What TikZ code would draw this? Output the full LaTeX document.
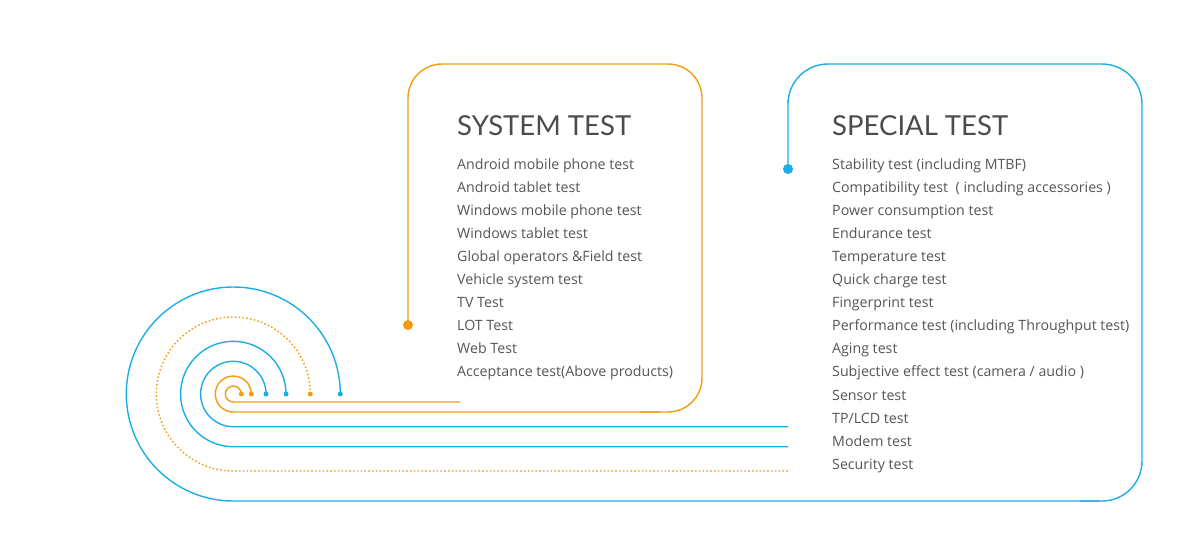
\documentclass[tikz,border=0pt]{standalone}
\usepackage{fontspec}
\setmainfont{Open Sans}
\newfontfamily\titlefont{Lato}
\definecolor{org}{HTML}{F39C12}
\definecolor{blu}{HTML}{1AAEE6}
\definecolor{txt}{HTML}{555555}
\begin{document}
\begin{tikzpicture}[x=1pt,y=-1pt,
  ln/.style={line width=1.4pt},
  dotted2/.style={dash pattern=on 1.6pt off 2.2pt},
  body/.style={anchor=base west,inner sep=0,text=txt,font=\fontsize{14.2}{16}\selectfont},
  ttl/.style={anchor=base west,inner sep=0,text=txt!90!black,font=\titlefont\fontsize{27.5}{32}\selectfont},
  bigdot/.style={circle,inner sep=0,minimum size=10pt},
  smalldot/.style={circle,inner sep=0,minimum size=5pt}]
\path[use as bounding box] (0,0) rectangle (1200,538);
% dots
\node[bigdot,fill=org] (od) at (408,325) {};
\node[bigdot,fill=blu] (bd) at (788,169) {};
\node[smalldot,fill=org] (d1) at (241.3,394) {};
\node[smalldot,fill=org] (d2) at (251.3,394) {};
\node[smalldot,fill=blu] (d3) at (266,394) {};
\node[smalldot,fill=blu] (d4) at (286,394) {};
\node[smalldot,fill=org] (d5) at (310.3,394) {};
\node[smalldot,fill=blu] (d6) at (340.3,394) {};
\coordinate (e1) at (460,402);
\coordinate (e3) at (788,426.7);
\coordinate (e4) at (788,446.7);
\coordinate (e5) at (788,471);
% boxes
\draw[ln,org,rounded corners=34] (od.center) -- (408,64) -- (702,64) -- (702,412) -- (640,412);
\draw[ln,blu,rounded corners=40] (bd.center) -- (788,64) -- (1142,64) -- (1142,501) -- (1080,501);
% spiral
\draw[ln,org] (d1.center) arc(0:-270:8) -- (e1);
\draw[ln,org] (d2.center) arc(0:-270:18) -- (660,412);
\draw[ln,blu] (d3.center) arc(0:-270:32.7) -- (e3);
\draw[ln,blu] (d4.center) arc(0:-270:52.7) -- (e4);
\draw[ln,org,dotted2] (d5.center) arc(0:-270:77) -- (e5);
\draw[ln,blu] (d6.center) arc(0:-270:107) -- (1100,501);
% texts
\node[ttl] (t1) at (457,135) {SYSTEM TEST};
\node[ttl] (t2) at (832,135) {SPECIAL TEST};
\foreach \s [count=\i from 0] in {Android mobile phone test,Android tablet test,Windows mobile phone test,Windows tablet test,Global operators \&Field test,Vehicle system test,TV Test,LOT Test,Web Test,Acceptance test(Above products)}
  \node[body] (s\i) at (457,169+23.1*\i) {\s};
\foreach \s [count=\i from 0] in {Stability test (including MTBF),Compatibility test\ \ ( including accessories ),Power consumption test,Endurance test,Temperature test,Quick charge test,Fingerprint test,Performance test (including Throughput test),Aging test,Subjective effect test (camera / audio ),Sensor test,TP/LCD test,Modem test,Security test}
  \node[body] (p\i) at (832,169+23.1*\i) {\s};
\end{tikzpicture}
\end{document}
